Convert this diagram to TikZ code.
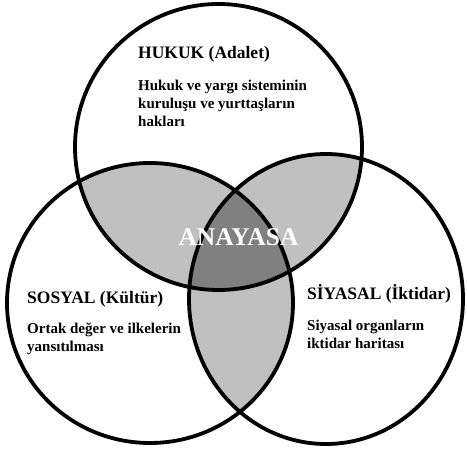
\documentclass[tikz,border=0pt]{standalone}
\usepackage{fontspec}
\setmainfont{Liberation Serif}
\definecolor{lightg}{HTML}{C0C0C0}
\definecolor{darkg}{HTML}{808080}
\tikzset{
  ring/.style={line width=3.8pt, draw=black},
  ttl/.style={anchor=base west, inner sep=0pt, font=\fontsize{17.5}{18}\selectfont\bfseries},
  body/.style={anchor=base west, inner sep=0pt, font=\fontsize{15}{18}\selectfont\bfseries},
}
\begin{document}
\begin{tikzpicture}[x=1pt,y=-1pt]
\useasboundingbox (0,0) rectangle (467,455);
\coordinate (cT) at (218.5,147);
\coordinate (cL) at (150,303);
\coordinate (cR) at (326,299);
% pairwise overlaps
\begin{scope}
  \clip (cT) ellipse [x radius=143.5, y radius=143];
  \fill[lightg] (cL) ellipse [x radius=143, y radius=140];
  \fill[lightg] (cR) ellipse [x radius=137, y radius=145];
\end{scope}
\begin{scope}
  \clip (cL) ellipse [x radius=143, y radius=140];
  \fill[lightg] (cR) ellipse [x radius=137, y radius=145];
\end{scope}
% triple overlap
\begin{scope}
  \clip (cT) ellipse [x radius=143.5, y radius=143];
  \clip (cL) ellipse [x radius=143, y radius=140];
  \fill[darkg] (cR) ellipse [x radius=137, y radius=145];
\end{scope}
% outlines
\draw[ring] (cT) ellipse [x radius=143.5, y radius=143];
\draw[ring] (cL) ellipse [x radius=143, y radius=140];
\draw[ring] (cR) ellipse [x radius=137, y radius=145];
% texts
\node[ttl] (hukukT) at (138,59) {HUKUK (Adalet)};
\node[body] (hukuk1) at (138,90) {Hukuk ve yargı sisteminin};
\node[body] (hukuk2) at (138,108) {kuruluşu ve yurttaşların};
\node[body] (hukuk3) at (138,126) {hakları};
\node[ttl] (sosyalT) at (27,303) {SOSYAL (Kültür)};
\node[body] (sosyal1) at (27,333) {Ortak değer ve ilkelerin};
\node[body] (sosyal2) at (27,351) {yansıtılması};
\node[ttl] (siyasalT) at (307,299) {SİYASAL (İktidar)};
\node[body] (siyasal1) at (307,330) {Siyasal organların};
\node[body] (siyasal2) at (307,348) {iktidar haritası};
\node[anchor=base, inner sep=0pt, text=white, font=\fontsize{25.5}{27}\selectfont\bfseries] (anayasa) at (238.5,245) {ANAYASA};
\end{tikzpicture}
\end{document}
